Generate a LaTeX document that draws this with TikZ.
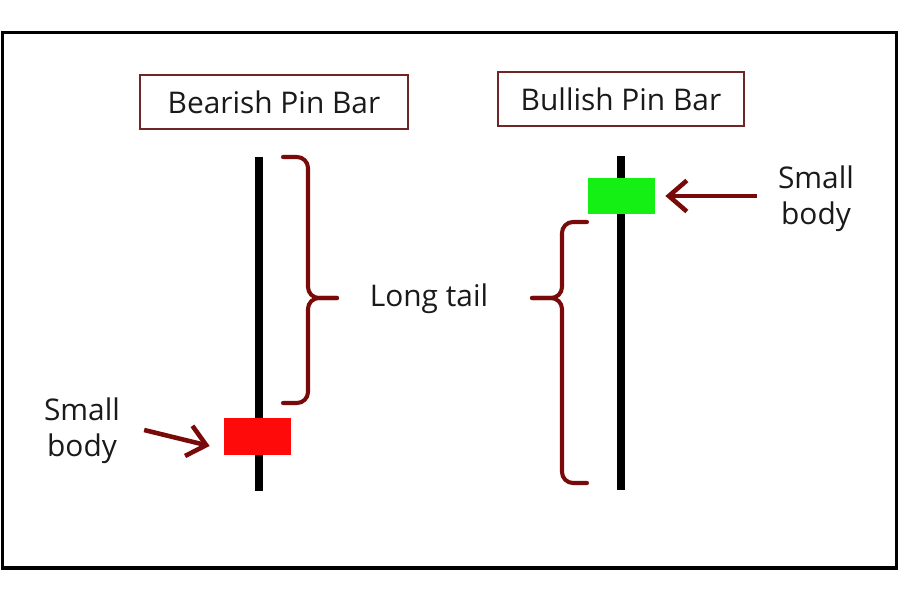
\documentclass[tikz,border=0pt]{standalone}
\usepackage{fontspec}
\setmainfont{Open Sans}
\usetikzlibrary{arrows.meta, positioning}
\definecolor{tailred}{HTML}{780A0A}
\definecolor{boxred}{HTML}{6E2626}
\definecolor{bodyred}{HTML}{FF0A0A}
\definecolor{bodygreen}{HTML}{14F014}
\definecolor{textgray}{HTML}{1A1A1A}
\tikzset{
    titlebox/.style={
        rectangle, draw=boxred, line width=1.2pt, minimum height=1.08cm,
        align=center, font=\fontsize{17}{20}\selectfont, text=textgray
    },
    wick/.style={line width=0.16cm, draw=black},
    candlebody/.style={rectangle, minimum width=1.34cm, minimum height=0.74cm, inner sep=0pt},
    label/.style={align=center, font=\fontsize{17}{20.5}\selectfont, text=textgray},
    tailbrace/.style={
        draw=tailred, line width=2.3pt, line cap=round, line join=round,
        rounded corners=0.22cm
    },
    pointer/.style={
        draw=tailred, line width=2.6pt,
        -{Straight Barb[length=0.36cm, width=0.62cm]}
    }
}

\begin{document}
\begin{tikzpicture}[x=1cm, y=1cm]

% === FRAME ===
\useasboundingbox (0,0) rectangle (18,12);
\draw [line width=2pt] (0.05,0.64) rectangle (17.93,11.35);

% === TITLES ===
\node (bearish) [titlebox, minimum width=5.36cm] at (5.48,9.96)  {Bearish Pin Bar};
\node (bullish) [titlebox, minimum width=4.92cm] at (12.42,10.02) {Bullish Pin Bar};

% === BEARISH CANDLE ===
\coordinate (bearTop) at (5.18,8.86);
\coordinate (bearLow) at (5.18,2.18);
\draw [wick] (bearTop) -- (bearLow);
\node (redbody) [candlebody, fill=bodyred] at (5.15,3.27) {};

% === BULLISH CANDLE ===
\coordinate (bullTop) at (12.42,8.88);
\coordinate (bullLow) at (12.42,2.2);
\draw [wick] (bullTop) -- (bullLow);
\node (greenbody) [candlebody, fill=bodygreen, minimum height=0.72cm] at (12.43,8.08) {};

% === TAILS ===
\coordinate (braceAtop) at (5.66,8.86);
\coordinate (braceAlow) at (5.66,3.94);
\coordinate (braceAtip) at (6.74,6.04);
\draw [tailbrace] (braceAtop) -- (6.16,8.86) -- (6.16,6.04) -- (braceAtip);
\draw [tailbrace] (braceAlow) -- (6.16,3.94) -- (6.16,6.04) -- (braceAtip);

\coordinate (braceBtop) at (11.74,7.56);
\coordinate (braceBlow) at (11.74,2.34);
\coordinate (braceBtip) at (10.64,6.04);
\draw [tailbrace] (braceBtop) -- (11.24,7.56) -- (11.24,6.04) -- (braceBtip);
\draw [tailbrace] (braceBlow) -- (11.24,2.34) -- (11.24,6.04) -- (braceBtip);

\node (longtail) [label] at (8.58,6.02) {Long tail};

% === SMALL BODY LABELS ===
\node (smallL) [label] at (1.64,3.38) {Small\\body};
\node (smallR) [label] at (16.32,8.02) {Small\\body};
\draw [pointer] ([shift={(0.36,0.02)}]smallL.east) -- ([shift={(-0.28,-0.19)}]redbody.west);
\draw [pointer] ([xshift=-0.3cm]smallR.west |- greenbody.east) -- ([xshift=0.2cm]greenbody.east);

\end{tikzpicture}
\end{document}
